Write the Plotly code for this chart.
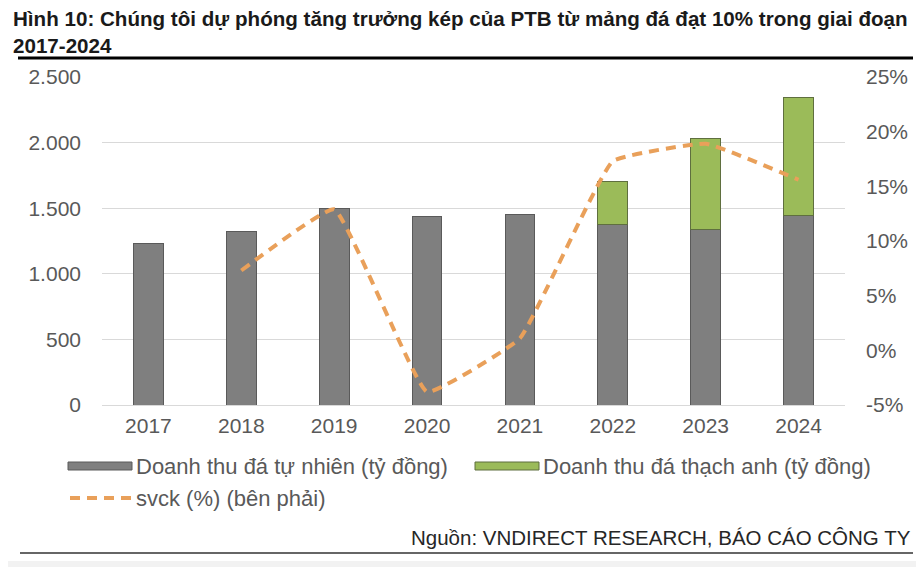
import plotly.graph_objects as go

years = ["2017", "2018", "2019", "2020", "2021", "2022", "2023", "2024"]
natural_stone = [1230, 1325, 1500, 1440, 1450, 1372, 1335, 1443]
quartz_stone = [None, None, None, None, None, 335, 695, 900]
growth_pct = [None, 7.3, 12.9, -3.8, 1.1, 17.3, 18.9, 15.6]

left_ticks = [0, 500, 1000, 1500, 2000, 2500]
right_ticks = [-5, 0, 5, 10, 15, 20, 25]
right_tick_labels = ["-5%", "0%", "5%", "10%", "15%", "20%", "25%"]

# the page body has an 8px margin, so the figure is drawn 8px smaller and
# all reference pixel positions are shifted by OFF
OFF = 8
W, H = 924 - OFF, 567 - OFF
L, R, T, B = 102 - OFF, 845 - OFF, 77 - OFF, 405 - OFF

def px(x):
    return (x - OFF - L) / (R - L)

def py(y):
    return (B - (y - OFF)) / (B - T)

GREY = "#7F7F7F"
GREEN = "#9BBB59"
ORANGE = "#E9A05A"
TXT = "#595959"
SANS = "Liberation Sans, Arial, sans-serif"
TICKFONT = dict(family=SANS, size=21, color=TXT)

fig = go.Figure()
fig.add_trace(go.Bar(x=years, y=natural_stone, name="Doanh thu đá tự nhiên (tỷ đồng)",
                     marker=dict(color=GREY, line=dict(color="#5a5a5a", width=1)), showlegend=False))
fig.add_trace(go.Bar(x=years, y=quartz_stone, name="Doanh thu đá thạch anh (tỷ đồng)",
                     marker=dict(color=GREEN, line=dict(color="#5f6f3f", width=1)), showlegend=False))
fig.add_trace(go.Scatter(x=years, y=growth_pct, name="svck (%) (bên phải)", yaxis="y2",
                         mode="lines", connectgaps=False,
                         line=dict(color=ORANGE, width=4, dash="10px,7px", shape="spline", smoothing=0.3),
                         showlegend=False))

fig.update_layout(
    width=W, height=H,
    paper_bgcolor="white", plot_bgcolor="white",
    margin=dict(l=L, r=W - R, t=T, b=H - B, pad=0),
    barmode="stack", bargap=0.68,
    separators=",.",
    xaxis=dict(type="category", showgrid=False, showline=True, linecolor="#D9D9D9", linewidth=1,
               ticks="", tickfont=TICKFONT, ticklabelstandoff=2),
    yaxis=dict(range=[0, 2500], tickvals=left_ticks, tickformat=",d", showgrid=True,
               gridcolor="#D9D9D9", gridwidth=1, zeroline=False, showline=False,
               ticks="", tickfont=TICKFONT, ticklabelstandoff=20),
    yaxis2=dict(range=[-5, 25], tickvals=right_ticks, ticktext=right_tick_labels, overlaying="y",
                side="right", showgrid=False, zeroline=False, showline=False, ticks="",
                tickfont=TICKFONT, ticklabelstandoff=20),
    showlegend=False,
)

shapes = []
annotations = []
# title
annotations.append(dict(text="<b>Hình 10: Chúng tôi dự phóng tăng trưởng kép của PTB từ mảng đá đạt 10% trong giai đoạn<br>2017-2024</b>",
                        xref="paper", yref="paper", x=px(11), y=py(5), xanchor="left", yanchor="top",
                        align="left", showarrow=False,
                        font=dict(family=SANS, size=20.6, color="#1a1a1a")))
# thick rule under title
shapes.append(dict(type="line", xref="paper", yref="paper", x0=px(18), x1=px(913), y0=py(58), y1=py(58),
                   line=dict(color="black", width=3)))

# legend
def legend_rect(x0, x1, yc, color, border):
    shapes.append(dict(type="rect", xref="paper", yref="paper", x0=px(x0), x1=px(x1),
                       y0=py(yc + 4), y1=py(yc - 4), fillcolor=color, line=dict(color=border, width=1)))

def legend_text(x, yc, text):
    annotations.append(dict(text=text, xref="paper", yref="paper", x=px(x), y=py(yc), xanchor="left",
                            yanchor="middle", showarrow=False,
                            font=dict(family=SANS, size=22, color=TXT)))

legend_rect(68, 132, 466, GREY, "#5a5a5a")
legend_text(134, 466, "Doanh thu đá tự nhiên (tỷ đồng)")
legend_rect(475, 539, 466, GREEN, "#5f6f3f")
legend_text(541, 466, "Doanh thu đá thạch anh (tỷ đồng)")
shapes.append(dict(type="line", xref="paper", yref="paper", x0=px(70), x1=px(132), y0=py(498), y1=py(498),
                   line=dict(color=ORANGE, width=4, dash="10px,7px")))
legend_text(134, 498, "svck (%) (bên phải)")

# source
annotations.append(dict(text="Nguồn: VNDIRECT RESEARCH, BÁO CÁO CÔNG TY", xref="paper", yref="paper",
                        x=px(913), y=py(537), xanchor="right", yanchor="middle", showarrow=False,
                        font=dict(family=SANS, size=20.5, color="#262626")))
shapes.append(dict(type="line", xref="paper", yref="paper", x0=px(20), x1=px(913), y0=py(553), y1=py(553),
                   line=dict(color="#666666", width=2)))
shapes.append(dict(type="rect", xref="paper", yref="paper", x0=px(8), x1=px(924), y0=py(567), y1=py(561),
                   fillcolor="#F2F2F2", line=dict(width=0)))

fig.update_layout(shapes=shapes, annotations=annotations)
fig.write_html("out.html")
